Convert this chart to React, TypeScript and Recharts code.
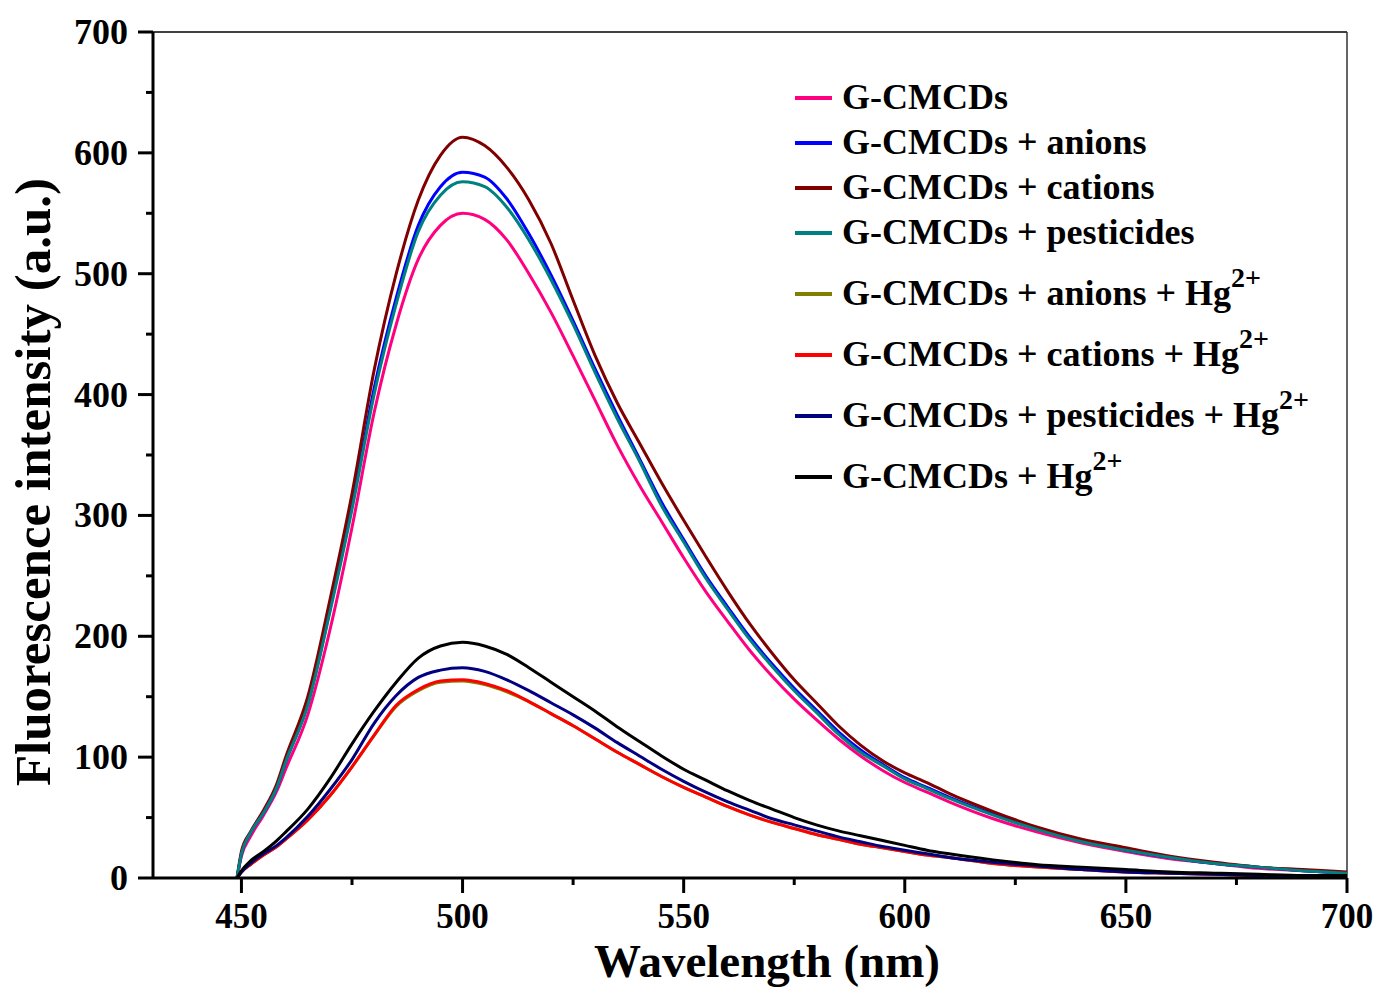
import React from "react";
import { LineChart, Line, XAxis, YAxis, ReferenceLine, Legend } from "recharts";

// emission wavelength (nm)
const wavelengths = [
  449, 450, 452, 455, 458, 460, 465, 470, 475, 480, 485, 490, 495, 500, 505, 510, 515, 520,
  525, 530, 535, 540, 545, 550, 555, 560, 565, 570, 575, 580, 585, 590, 595, 600, 605, 610,
  620, 630, 640, 650, 660, 670, 680, 690, 700,
];

// fluorescence intensity (a.u.)
const gcmcds = [
  0, 18, 34, 52, 72, 90, 135, 205, 290, 385, 458, 512, 540, 550, 545, 528, 500, 468,
  432, 395, 358, 325, 295, 265, 237, 212, 188, 167, 148, 131, 115, 101, 89, 79, 71, 63,
  49, 38, 29, 22, 16, 12, 8, 6, 4,
];
const withAnions = [
  0, 20, 37, 54, 75, 96, 144, 222, 308, 405, 480, 540, 572, 584, 580, 562, 533, 499,
  461, 421, 383, 347, 311, 280, 250, 224, 199, 177, 157, 139, 121, 106, 94, 83, 75, 67,
  53, 41, 31, 23, 17, 12, 9, 6, 4,
];
const withCations = [
  0, 22, 38, 56, 78, 100, 150, 230, 318, 420, 500, 561, 598, 613, 606, 588, 561, 525,
  478, 432, 393, 360, 327, 296, 266, 237, 210, 186, 164, 145, 126, 110, 97, 87, 79, 70,
  55, 42, 32, 25, 18, 13, 9, 7, 5,
];
const withPesticides = [
  0, 20, 37, 54, 75, 96, 143, 220, 305, 400, 475, 535, 565, 576, 572, 555, 528, 495,
  458, 418, 380, 345, 308, 278, 248, 222, 197, 175, 155, 137, 119, 104, 93, 82, 74, 66,
  52, 40, 30, 23, 17, 12, 9, 6, 4,
];
const anionsHg = [
  0, 5, 11, 19, 26, 32, 48, 68, 92, 118, 142, 155, 162, 163, 160, 154, 146, 136,
  126, 115, 104, 94, 84, 75, 67, 59, 52, 46, 41, 36, 32, 28, 25, 22, 19, 17,
  12, 9, 7, 5, 4, 3, 2, 1, 1,
];
const cationsHg = [
  0, 5, 11, 19, 26, 32, 48, 68, 92, 118, 143, 156, 163, 164, 161, 155, 146, 136,
  126, 115, 104, 94, 84, 75, 67, 59, 52, 46, 41, 36, 32, 28, 25, 22, 19, 17,
  12, 9, 7, 5, 4, 3, 2, 1, 1,
];
const pesticidesHg = [
  0, 5, 12, 20, 27, 33, 51, 73, 98, 128, 151, 166, 172, 174, 171, 164, 155, 145,
  135, 124, 112, 101, 90, 80, 71, 63, 56, 49, 44, 39, 34, 30, 26, 23, 20, 17,
  13, 10, 7, 5, 4, 3, 2, 2, 1,
];
const onlyHg = [
  0, 6, 14, 22, 31, 38, 57, 82, 111, 138, 162, 182, 192, 195, 192, 185, 174, 162,
  150, 138, 125, 113, 101, 90, 81, 72, 64, 57, 50, 44, 39, 35, 31, 27, 23, 20,
  15, 11, 9, 7, 5, 4, 3, 2, 2,
];

const xTicks = [450, 475, 500, 525, 550, 575, 600, 625, 650, 675, 700];
const yTicks = [0, 50, 100, 150, 200, 250, 300, 350, 400, 450, 500, 550, 600, 650, 700];

// [key, legend text, has Hg2+ superscript, colour]
const seriesList: [string, string, boolean, string][] = [
  ["a", "G-CMCDs", false, "#FF0080"],
  ["b", "G-CMCDs + anions", false, "#0000FF"],
  ["c", "G-CMCDs + cations", false, "#800000"],
  ["d", "G-CMCDs + pesticides", false, "#008080"],
  ["e", "G-CMCDs + anions + Hg", true, "#808000"],
  ["f", "G-CMCDs + cations + Hg", true, "#FF0000"],
  ["g", "G-CMCDs + pesticides + Hg", true, "#000080"],
  ["h", "G-CMCDs + Hg", true, "#000000"],
];

const values = [gcmcds, withAnions, withCations, withPesticides, anionsHg, cationsHg, pesticidesHg, onlyHg];

const data = wavelengths.map((wl, i) => {
  const row: any = { wl };
  seriesList.forEach(([key], s) => {
    row[key] = values[s][i];
  });
  return row;
});

const FONT = '"Liberation Serif", "Times New Roman", serif';

// ticks drawn by hand so minor ticks can be shorter and unlabeled
function XTick(props: any) {
  const { x, y, payload } = props;
  const major = payload.value % 50 === 0;
  return (
    <g>
      <line x1={x} x2={x} y1={y} y2={y + (major ? 15 : 7)} stroke="#000" strokeWidth={3} />
      {major && (
        <text x={x} y={y + 50} textAnchor="middle" fontFamily={FONT} fontWeight="bold" fontSize={35} fill="#000">
          {payload.value}
        </text>
      )}
    </g>
  );
}

function YTick(props: any) {
  const { x, y, payload } = props;
  const major = payload.value % 100 === 0;
  return (
    <g>
      <line x1={x - (major ? 15 : 7)} x2={x} y1={y} y2={y} stroke="#000" strokeWidth={3} />
      {major && (
        <text x={x - 25} y={y + 12} textAnchor="end" fontFamily={FONT} fontWeight="bold" fontSize={36} fill="#000">
          {payload.value}
        </text>
      )}
    </g>
  );
}

const XTitle = () => (
  <text x={767} y={977} textAnchor="middle" fontFamily={FONT} fontWeight="bold" fontSize={47} fill="#000">
    Wavelength (nm)
  </text>
);

const YTitle = () => (
  <text
    x={50}
    y={482}
    transform="rotate(-90 50 482)"
    textAnchor="middle"
    fontFamily={FONT}
    fontWeight="bold"
    fontSize={51}
    fill="#000"
  >
    Fluorescence intensity (a.u.)
  </text>
);

const LegendBox = () => {
  let lineY = 28;
  return (
    <div style={{ position: "relative", width: 560, height: 430, fontFamily: FONT, fontWeight: "bold" }}>
      {seriesList.map(([key, label, sup, color], i) => {
        if (i > 0) lineY += sup ? 61 : 45;
        return (
          <div key={key} style={{ position: "absolute", left: 0, top: lineY }}>
            <div style={{ position: "absolute", left: 5, top: -2, width: 37, height: 4, background: color }} />
            <span
              style={{
                position: "absolute",
                left: 52,
                top: -18,
                fontSize: 36,
                lineHeight: "35px",
                whiteSpace: "nowrap",
                color: "#000",
              }}
            >
              {label}
              {sup && <span style={{ fontSize: 28, position: "relative", top: -18 }}>2+</span>}
            </span>
          </div>
        );
      })}
    </div>
  );
};

export default function App() {
  return (
    <div style={{ position: "absolute", left: 0, top: 0, background: "#fff" }}>
      <LineChart width={1380} height={988} data={data} margin={{ top: 32, right: 33, left: 0, bottom: 0 }}>
        <XAxis
          dataKey="wl"
          type="number"
          domain={[430, 700]}
          ticks={xTicks}
          interval={0}
          height={110}
          tickSize={0}
          tickMargin={0}
          tickLine={false}
          axisLine={{ stroke: "#000", strokeWidth: 3 }}
          tick={<XTick />}
          label={<XTitle />}
        />
        <YAxis
          type="number"
          domain={[0, 700]}
          ticks={yTicks}
          interval={0}
          width={153}
          tickSize={0}
          tickMargin={0}
          tickLine={false}
          axisLine={{ stroke: "#000", strokeWidth: 3 }}
          tick={<YTick />}
          label={<YTitle />}
        />
        <ReferenceLine y={700} stroke="#000" strokeWidth={1.5} />
        <ReferenceLine x={700} stroke="#333" strokeWidth={1.5} />
        {seriesList.map(([key, label, , color]) => (
          <Line
            key={key}
            type="monotone"
            dataKey={key}
            name={label}
            stroke={color}
            strokeWidth={3}
            dot={false}
            activeDot={false}
            isAnimationActive={false}
          />
        ))}
        <Legend
          layout="vertical"
          align="center"
          verticalAlign="middle"
          content={<LegendBox />}
          wrapperStyle={{ left: 790, top: 70, width: 560 }}
        />
      </LineChart>
    </div>
  );
}
